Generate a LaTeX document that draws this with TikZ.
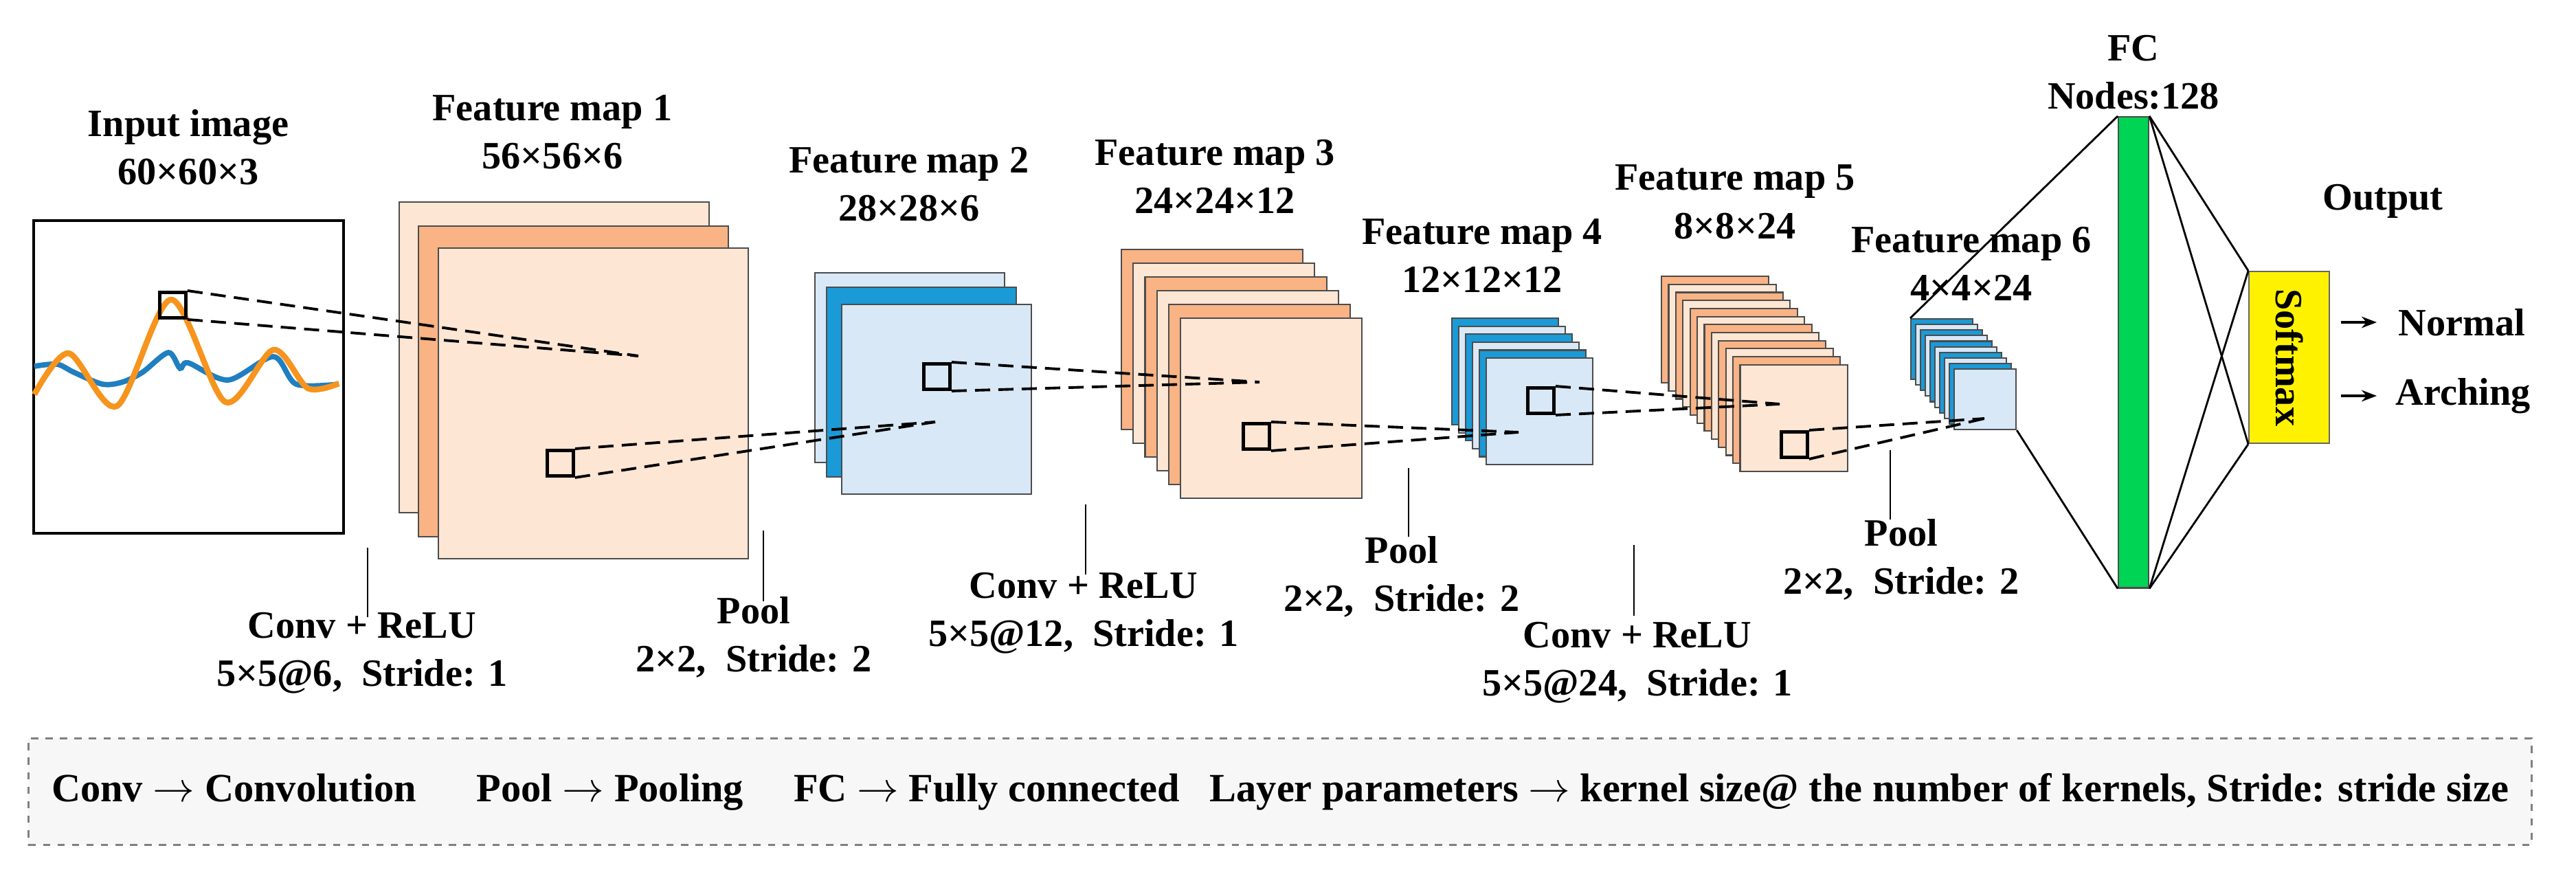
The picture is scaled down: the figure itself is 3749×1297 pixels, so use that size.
\documentclass[tikz,border=0pt]{standalone}
\usepackage{fontspec}
\setmainfont{Liberation Serif}
\usetikzlibrary{arrows.meta}
\definecolor{lor}{HTML}{FDE6D4}
\definecolor{dor}{HTML}{F9B384}
\definecolor{lbl}{HTML}{D8E8F6}
\definecolor{dbl}{HTML}{1A9AD7}
\definecolor{fcg}{HTML}{00D455}
\definecolor{ob}{HTML}{F7941D}
\definecolor{bb}{HTML}{1F7FC0}
\begin{document}
\begin{tikzpicture}[x=0.01cm,y=-0.01cm,
  box/.style={draw=black!70, line width=0.6pt, inner sep=0, anchor=north west},
  lab/.style={font=\fontsize{16}{20}\selectfont\bfseries, align=center, inner sep=0},
  sq/.style={draw=black, line width=1.4pt, inner sep=0, minimum width=0.38cm, minimum height=0.37cm, anchor=north west},
  dl/.style={line width=1.1pt, dash pattern=on 0.22cm off 0.12cm},
  tl/.style={line width=0.8pt}]
\useasboundingbox (0,0) rectangle (3749,1297);
% input
\node[box, draw=black, line width=1.2pt, minimum width=4.51cm, minimum height=4.55cm] (inp) at (47,319) {};
\draw[bb, line width=2.2pt] plot[smooth] coordinates {(50,533) (83,530) (108,542) (149,559) (178,556) (207,542) (245,513) (262,536) (274,528) (332,553) (398,519) (431,559) (493,559)};
\draw[ob, line width=2.4pt] plot[smooth] coordinates {(50,574) (100,514) (170,591) (249,436) (328,585) (398,509) (448,565) (493,558)};
\node[sq] (s0) at (230,423) {};
\node[lab] (tin) at (274,214) {Input image\\60×60×3};
% FM1
\node[box, fill=lor, minimum width=4.51cm, minimum height=4.52cm] (f1a) at (580,293) {};
\node[box, fill=dor, minimum width=4.51cm, minimum height=4.52cm] (f1b) at (608,328) {};
\node[box, fill=lor, minimum width=4.51cm, minimum height=4.52cm] (f1c) at (637,360) {};
\node[lab] (t1) at (804,192) {Feature map 1\\56×56×6};
\node[sq] (s1) at (794,653) {};
% FM2
\node[box, fill=lbl, minimum width=2.76cm, minimum height=2.76cm] (f2a) at (1185,396) {};
\node[box, fill=dbl, minimum width=2.76cm, minimum height=2.76cm] (f2b) at (1202,417) {};
\node[box, fill=lbl, minimum width=2.76cm, minimum height=2.76cm] (f2c) at (1224,442) {};
\node[lab] (t2) at (1323,268) {Feature map 2\\28×28×6};
\node[sq] (s2) at (1342,527) {};
% FM3
\foreach \i in {0,...,5}{
  \ifodd\i \def\c{lor}\else\def\c{dor}\fi
  \node[box, fill=\c, minimum width=2.64cm, minimum height=2.62cm] (f3-\i) at ({1631+17.2*\i},{362+20*\i}) {};}
\node[lab] (t3) at (1768,257) {Feature map 3\\24×24×12};
\node[sq] (s3) at (1807,614) {};
% FM4
\foreach \i in {0,...,5}{
  \ifodd\i \def\c{lbl}\else\def\c{dbl}\fi
  \node[box, fill=\c, minimum width=1.55cm, minimum height=1.55cm] (f4-\i) at ({2112+10*\i},{462+11.6*\i}) {};}
\node[lab] (t4) at (2157,372) {Feature map 4\\12×12×12};
\node[sq] (s4) at (2221,562) {};
% FM5
\foreach \i in {0,...,11}{
  \ifodd\i \def\c{lor}\else\def\c{dor}\fi
  \node[box, fill=\c, minimum width=1.56cm, minimum height=1.55cm] (f5-\i) at ({2417+10.4*\i},{401+11.7*\i}) {};}
\node[lab] (t5) at (2525,294) {Feature map 5\\8×8×24};
\node[sq] (s5) at (2590,626) {};
% FM6
\foreach \i in {0,...,9}{
  \ifodd\i \def\c{lbl}\else\def\c{dbl}\fi
  \node[box, fill=\c, minimum width=0.9cm, minimum height=0.88cm] (f6-\i) at ({2780+7*\i},{463+8.1*\i}) {};}
\node[lab] (t6) at (2869,384) {Feature map 6\\4×4×24};
% dashed connectors
\coordinate (p1) at (929,518);
\coordinate (p2) at (1361,614);
\coordinate (p3) at (1833,556);
\coordinate (p4) at (2210,629);
\coordinate (p5) at (2590,588);
\coordinate (p6) at (2888,609);
\draw[dl] (s0.north east) -- (p1); \draw[dl] (s0.south east) -- (p1);
\draw[dl] (s1.north east) -- (p2); \draw[dl] (s1.south east) -- (p2);
\draw[dl] (s2.north east) -- (p3); \draw[dl] (s2.south east) -- (p3);
\draw[dl] (s3.north east) -- (p4); \draw[dl] (s3.south east) -- (p4);
\draw[dl] (s4.north east) -- (p5); \draw[dl] (s4.south east) -- (p5);
\draw[dl] (s5.north east) -- (p6); \draw[dl] (s5.south east) -- (p6);
% FC and softmax
\node[box, fill=fcg, minimum width=0.44cm, minimum height=6.85cm] (fc) at (3082,169) {};
\node[lab] (tfc) at (3105,105) {FC\\Nodes:128};
\node[box, draw=black!60, fill=yellow, minimum width=1.17cm, minimum height=2.5cm] (soft) at (3272,394) {};
\node[lab, rotate=-90] (tsoft) at (soft.center) {Softmax};
\draw[tl] (f6-0.north west) -- (fc.north west);
\draw[tl] (f6-9.south east) -- (fc.south west);
\draw[tl] (fc.north east) -- (soft.north west);
\draw[tl] (fc.north east) -- (soft.south west);
\draw[tl] (fc.south east) -- (soft.north west);
\draw[tl] (fc.south east) -- (soft.south west);
\node[lab] (tout) at (3468,293) {Output};
\node[lab, anchor=west] (tn) at (3490,469) {Normal};
\node[lab, anchor=west] (ta) at (3486,576) {Arching};
\coordinate (an) at (3407,469); \coordinate (aa) at (3407,576);
\draw[line width=1.4pt, -{Stealth[length=0.22cm]}] (an) -- ++(52,0);
\draw[line width=1.4pt, -{Stealth[length=0.22cm]}] (aa) -- ++(52,0);
% layer labels
\node[lab] (l1) at (527,950) {Conv + ReLU\\5×5@6,\ \ Stride: 1};
\node[lab] (l2) at (1097,927) {Pool\\2×2,\ \ Stride: 2};
\node[lab] (l3) at (1577,892) {Conv + ReLU\\5×5@12,\ \ Stride: 1};
\node[lab] (l4) at (2040,839) {Pool\\2×2,\ \ Stride: 2};
\node[lab] (l5) at (2383,964) {Conv + ReLU\\5×5@24,\ \ Stride: 1};
\node[lab] (l6) at (2767,814) {Pool\\2×2,\ \ Stride: 2};
\draw[tl] (535,797) -- (535,898);
\draw[tl] (1111,772) -- (1111,875);
\draw[tl] (1580,734) -- (1580,836);
\draw[tl] (2050,681) -- (2050,781);
\draw[tl] (2378,793) -- (2378,896);
\draw[tl] (2751,655) -- (2751,756);
% legend
\node[draw=black!50, line width=0.8pt, dashed, fill=black!3, minimum width=36.41cm, minimum height=1.55cm, inner sep=0, font=\fontsize{16.6}{20}\selectfont\bfseries] (leg) at (1863,1152) {Conv $\mathbf{\rightarrow}$ Convolution\quad\ \ Pool $\mathbf{\rightarrow}$ Pooling\quad\ FC $\mathbf{\rightarrow}$ Fully connected\ \ \ Layer parameters $\mathbf{\rightarrow}$ kernel size@ the number of kernels, Stride: stride size};
\end{tikzpicture}
\end{document}
